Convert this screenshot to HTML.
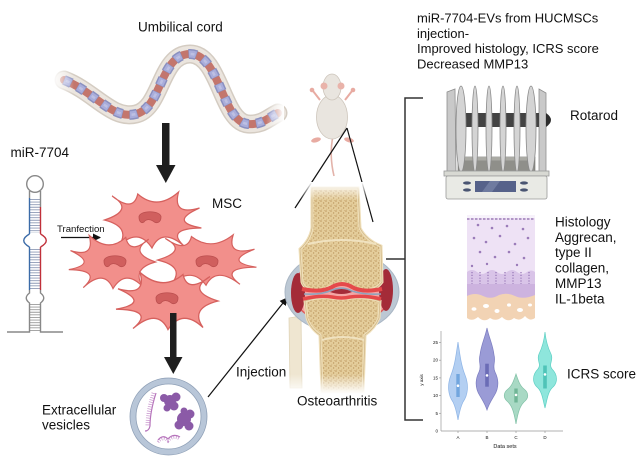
<!DOCTYPE html>
<html><head><meta charset="utf-8"><style>
html,body{margin:0;padding:0;background:#fff;}
svg{display:block;}
text{font-family:"Liberation Sans",Arial,sans-serif;fill:#111;}
</style></head><body>
<svg width="639" height="465" viewBox="0 0 639 465" xmlns="http://www.w3.org/2000/svg">
<defs>
  <pattern id="sp" width="5" height="5" patternUnits="userSpaceOnUse">
    <rect width="5" height="5" fill="#e4cd9b"/>
    <circle cx="1" cy="1" r="0.8" fill="#bf9a62"/>
    <circle cx="3.6" cy="3" r="0.7" fill="#bf9a62"/>
    <circle cx="1.8" cy="4.3" r="0.5" fill="#cdab76"/>
    <circle cx="4.4" cy="0.6" r="0.5" fill="#cdab76"/>
  </pattern>
  <linearGradient id="fadeL" x1="0" x2="1"><stop offset="0" stop-color="#fff" stop-opacity="1"/><stop offset="1" stop-color="#fff" stop-opacity="0"/></linearGradient>
  <linearGradient id="fadeR" x1="1" x2="0"><stop offset="0" stop-color="#fff" stop-opacity="1"/><stop offset="1" stop-color="#fff" stop-opacity="0"/></linearGradient>
  <linearGradient id="fadeT" x1="0" y1="0" x2="0" y2="1"><stop offset="0" stop-color="#fff" stop-opacity="1"/><stop offset="1" stop-color="#fff" stop-opacity="0"/></linearGradient>
  <linearGradient id="fadeB" x1="0" y1="1" x2="0" y2="0"><stop offset="0" stop-color="#fff" stop-opacity="1"/><stop offset="1" stop-color="#fff" stop-opacity="0"/></linearGradient>
  <path id="cellp" d="M -50 0 Q -18 -10 -42 -24 Q -19.5 -7 -15 -26 Q 5.5 -9 28 -28 Q 21 -4 50 -12 Q 17 2 52 8 Q 12.5 8.5 35 27 Q 10.5 6.5 0 28 Q -14.5 7 -35 26 Q -21.5 7 -50 0 Z"/>
  <path id="nuc" d="M -11 -1 C -11 -8 11 -8 11 -1 C 11 5 6 6 3 3 C 0 1 -4 1 -6 4 C -9 6 -11 3 -11 -1 Z"/>
  <path id="cord" d="M 64 80 C 95 92 112 120 136 114 C 162 108 160 54 190 54 C 220 54 222 122 248 124 C 262 125 268 118 278 113"/>
  <marker id="ah" markerWidth="8" markerHeight="8" refX="7" refY="4" orient="auto" markerUnits="userSpaceOnUse">
    <path d="M0 0 L8 4 L0 8 Z" fill="#111"/>
  </marker>
</defs>

<!-- ===== Umbilical cord ===== -->
<text x="138" y="31.5" font-size="13.5">Umbilical cord</text>
<g fill="none" stroke-linecap="round">
  <use href="#cord" stroke="#d4ccc2" stroke-width="19"/>
  <use href="#cord" stroke="#ebe5de" stroke-width="16"/>
  <use href="#cord" stroke="#c3766d" stroke-width="8"/>
  <use href="#cord" stroke="#8a90c0" stroke-width="10" stroke-dasharray="8 7" stroke-linecap="butt"/>
  <use href="#cord" stroke="#a9addb" stroke-width="7" stroke-dasharray="7 8" stroke-dashoffset="-0.5" stroke-linecap="butt"/>
  <use href="#cord" stroke="#bdc0e3" stroke-width="2.5" stroke-dasharray="4 11" stroke-dashoffset="-2" stroke-linecap="butt"/>
</g>
<rect x="52" y="60" width="22" height="40" fill="url(#fadeL)"/>
<rect x="266" y="100" width="18" height="40" fill="url(#fadeR)"/>

<!-- big arrow 1 -->
<rect x="162" y="123" width="7.5" height="43" fill="#1e1e1e"/>
<polygon points="156,165 175.5,165 165.8,183" fill="#1e1e1e"/>

<!-- ===== miR-7704 hairpin ===== -->
<text x="10.5" y="157" font-size="13.5">miR-7704</text>
<g fill="none" stroke-width="1.4">
  <line x1="35" y1="199" x2="35" y2="233" stroke="#8d9ab5" stroke-width="10" stroke-dasharray="0.9 1.7"/>
  <line x1="35" y1="249" x2="35" y2="289" stroke="#8d9ab5" stroke-width="10" stroke-dasharray="0.9 1.7"/>
  <line x1="35" y1="304" x2="35" y2="331" stroke="#9a9a9a" stroke-width="10" stroke-dasharray="0.9 1.7"/>
  <circle cx="35" cy="184" r="8.3" stroke="#888"/>
  <line x1="29.5" y1="191" x2="29.5" y2="198" stroke="#888"/>
  <line x1="40.5" y1="191" x2="40.5" y2="207" stroke="#888"/>
  <line x1="29.5" y1="198" x2="29.5" y2="234" stroke="#3b6ba8"/>
  <path d="M 29.5 234 Q 18 240.5 29.5 247" stroke="#3b6ba8"/>
  <line x1="29.5" y1="247" x2="29.5" y2="290" stroke="#3b6ba8"/>
  <line x1="40.5" y1="207" x2="40.5" y2="234" stroke="#c0303a"/>
  <path d="M 40.5 234 Q 52 240.5 40.5 247" stroke="#c0303a"/>
  <line x1="40.5" y1="247" x2="40.5" y2="290" stroke="#c0303a"/>
  <path d="M 29.5 290 L 29.5 293 Q 23 298 29.5 303 L 29.5 332 L 7 332" stroke="#888"/>
  <path d="M 40.5 290 L 40.5 293 Q 47 298 40.5 303 L 40.5 332 L 63 332" stroke="#888"/>
</g>
<text x="57" y="232" font-size="9.6">Tranfection</text>
<line x1="61" y1="237.5" x2="100" y2="237.5" stroke="#111" stroke-width="1.2" marker-end="url(#ah)"/>

<!-- ===== MSC cells ===== -->
<text x="212" y="208" font-size="13.5">MSC</text>
<g>
  <g transform="translate(152,220) scale(0.95,1)">
    <use href="#cellp" fill="#f28f8b" stroke="#d6615e" stroke-width="1.3"/>
  </g>
  <g transform="translate(206,260) scale(0.97,0.9)">
    <use href="#cellp" fill="#f28f8b" stroke="#d6615e" stroke-width="1.3"/>
  </g>
  <g transform="translate(113,262) scale(-0.85,0.95)">
    <use href="#cellp" fill="#f28f8b" stroke="#d6615e" stroke-width="1.3"/>
  </g>
  <g transform="translate(168,301) scale(-1,1.02)">
    <use href="#cellp" fill="#f28f8b" stroke="#d6615e" stroke-width="1.3"/>
  </g>
  <use href="#nuc" transform="translate(150,218)" fill="#d05f5e" stroke="#bb4f4f" stroke-width="0.8"/>
  <use href="#nuc" transform="translate(115,262)" fill="#d05f5e" stroke="#bb4f4f" stroke-width="0.8"/>
  <use href="#nuc" transform="translate(207,262)" fill="#d05f5e" stroke="#bb4f4f" stroke-width="0.8"/>
  <use href="#nuc" transform="translate(167,299)" fill="#d05f5e" stroke="#bb4f4f" stroke-width="0.8"/>
</g>

<!-- big arrow 2 -->
<rect x="170" y="313" width="6.5" height="45" fill="#1e1e1e"/>
<polygon points="164,357 182.5,357 173.3,374" fill="#1e1e1e"/>

<!-- ===== Vesicle ===== -->
<circle cx="168.5" cy="416.5" r="35.5" fill="#fff" stroke="#b8c6d8" stroke-width="6"/>
<circle cx="168.5" cy="416.5" r="38.5" fill="none" stroke="#8e9fb6" stroke-width="0.8"/>
<circle cx="168.5" cy="416.5" r="32.5" fill="none" stroke="#8e9fb6" stroke-width="0.8"/>
<g fill="none">
  <path d="M 156 393 Q 150 412 150 426 Q 149 431 145 431" stroke="#b674bb" stroke-width="1.2"/>
  <path d="M 153.5 393 Q 147.5 412 147.5 426" stroke="#c48dc9" stroke-width="4" stroke-dasharray="0.7 1.6"/>
  <path d="M 158 440 Q 163 434 168 439 Q 173 433 180 437" stroke="#b674bb" stroke-width="1.2"/>
  <path d="M 158 442 Q 163 436 168 441 Q 173 435 180 439" stroke="#c48dc9" stroke-width="3" stroke-dasharray="0.7 1.6"/>
</g>
<g fill="#8b5aa7">
  <circle cx="170" cy="401" r="6"/><circle cx="176" cy="397" r="4.5"/><circle cx="164" cy="398" r="4"/>
  <circle cx="174" cy="406" r="4.5"/><circle cx="167" cy="408" r="3.5"/>
  <circle cx="184" cy="419" r="7"/><circle cx="190" cy="414" r="4.5"/><circle cx="179" cy="425" r="4.5"/>
  <circle cx="189" cy="426" r="4.5"/><circle cx="184" cy="411" r="3.5"/>
</g>
<text x="42" y="414.5" font-size="13.5">Extracellular</text>
<text x="42" y="429.5" font-size="13.5">vesicles</text>

<!-- Injection -->
<line x1="208" y1="397" x2="287" y2="298" stroke="#111" stroke-width="1.2" marker-end="url(#ah)"/>
<text x="236" y="376.5" font-size="13.5">Injection</text>

<!-- ===== Mouse ===== -->
<path d="M 333 136 Q 329 155 334 176" fill="none" stroke="#e3b3aa" stroke-width="1.6"/>
<ellipse cx="316" cy="140" rx="5" ry="2.3" fill="#e8aba2" transform="rotate(-15 316 140)"/>
<ellipse cx="349" cy="140" rx="5" ry="2.3" fill="#e8aba2" transform="rotate(15 349 140)"/>
<path d="M 320 100 L 313 91" stroke="#e8aba2" stroke-width="2"/>
<path d="M 345 100 L 352 91" stroke="#e8aba2" stroke-width="2"/>
<circle cx="312" cy="90" r="2.3" fill="#e8aba2"/>
<circle cx="353" cy="90" r="2.3" fill="#e8aba2"/>
<ellipse cx="332" cy="117" rx="15.5" ry="22" fill="#e9e5df" stroke="#cdc5bb" stroke-width="0.8"/>
<ellipse cx="332" cy="87" rx="9" ry="13" fill="#e9e5df" stroke="#cdc5bb" stroke-width="0.8"/>
<circle cx="324" cy="86" r="3.5" fill="#e9b3aa"/>
<circle cx="341" cy="86" r="3.5" fill="#e9b3aa"/>

<!-- mouse-to-knee lines -->
<line x1="347" y1="128" x2="295" y2="208" stroke="#111" stroke-width="1.2"/>
<line x1="347" y1="128" x2="373" y2="222" stroke="#111" stroke-width="1.2"/>

<!-- ===== Knee ===== -->
<g>
  <path d="M 289 318 L 301 316 L 302 388 L 290 388 Z" fill="#efe6d1" stroke="#e0d4b8" stroke-width="0.8"/>
  <ellipse cx="342" cy="292" rx="57" ry="41" fill="#bcc8d4" stroke="#a9b6c4" stroke-width="1"/>
  <ellipse cx="342" cy="291" rx="50" ry="33" fill="#f4a5a4" stroke="#e05c5a" stroke-width="1.5"/>
  <ellipse cx="298" cy="293" rx="7" ry="20" fill="#a42b38"/>
  <ellipse cx="386" cy="290" rx="7" ry="21" fill="#a42b38"/>
  <!-- femur -->
  <path d="M 312 188 L 358 188 L 360 228 Q 366 240 381 246 L 382 282 Q 375 292 360 290 Q 350 285 342 283 Q 333 285 322 290 Q 305 292 302 282 L 300 249 Q 310 240 312 228 Z" fill="url(#sp)" stroke="#efdfba" stroke-width="3"/>
  <path d="M 312 188 L 358 188 L 360 228 Q 366 240 381 246 L 382 282 Q 375 292 360 290 Q 350 285 342 283 Q 333 285 322 290 Q 305 292 302 282 L 300 249 Q 310 240 312 228 Z" fill="none" stroke="#cfb584" stroke-width="0.7"/>
  <path d="M 308 244 Q 342 236 376 244" fill="none" stroke="#f0e2c0" stroke-width="2"/>
  <!-- tibia -->
  <path d="M 305 301 Q 320 296 332 298 Q 342 300 350 298 Q 365 296 380 301 L 379 318 Q 375 328 365 335 L 363 392 L 322 392 L 320 335 Q 310 328 307 318 Z" fill="url(#sp)" stroke="#efdfba" stroke-width="3"/>
  <path d="M 305 301 Q 320 296 332 298 Q 342 300 350 298 Q 365 296 380 301 L 379 318 Q 375 328 365 335 L 363 392 L 322 392 L 320 335 Q 310 328 307 318 Z" fill="none" stroke="#cfb584" stroke-width="0.7"/>
  <path d="M 322 340 Q 342 334 364 340" fill="none" stroke="#f0e2c0" stroke-width="2"/>
  <!-- joint -->
  <path d="M 302 289 Q 322 293 332 287 Q 342 281 352 287 Q 362 293 382 289" fill="none" stroke="#e5494a" stroke-width="4"/>
  <path d="M 303 299 Q 320 295 332 297 Q 342 299 350 297 Q 365 295 381 299" fill="none" stroke="#e5494a" stroke-width="3.5"/>
  <path d="M 304 294 Q 322 295 332 290 Q 342 286 352 291 Q 364 295 381 294" fill="none" stroke="#8ea3bc" stroke-width="1.6"/>
  <path d="M 330 292 Q 342 286 352 292 Q 342 296 330 292 Z" fill="#a42b38"/>
  <rect x="280" y="182" width="110" height="18" fill="url(#fadeT)"/>
  <rect x="280" y="374" width="110" height="20" fill="url(#fadeB)"/>
</g>
<text x="297" y="405.5" font-size="13.5">Osteoarthritis</text>

<!-- bracket -->
<g stroke="#333" stroke-width="1.5" fill="none">
  <path d="M 423 98 L 405 98 L 405 420 L 423 420"/>
  <line x1="386" y1="259" x2="405" y2="259"/>
</g>

<!-- ===== Top right text ===== -->
<g font-size="13">
  <text x="417" y="22.7">miR-7704-EVs from HUCMSCs</text>
  <text x="417" y="37.9">injection-</text>
  <text x="417" y="53.1">Improved histology, ICRS score</text>
  <text x="417" y="68.3">Decreased MMP13</text>
</g>

<!-- ===== Rotarod ===== -->
<g>
  <polygon points="447,92 455,89 456,173 447,175" fill="#c9c9c9" stroke="#8e8e8e" stroke-width="0.8"/>
  <polygon points="539,89 546,93 546,175 539,173" fill="#c9c9c9" stroke="#8e8e8e" stroke-width="0.8"/>
  <rect x="458" y="157" width="77" height="16" fill="#8f8f8a" stroke="#6e6e6a" stroke-width="0.6"/>
  <rect x="458" y="157" width="77" height="3.5" fill="#aaaaa4"/>
  <rect x="457" y="113" width="82" height="14" fill="#434343"/>
  <path d="M 546 113 Q 556 120 546 127 Z" fill="#2e2e2e"/>
  <g fill="#d4d4d4" stroke="#8a8a8a" stroke-width="0.8">
    <ellipse cx="461" cy="129" rx="5" ry="43"/>
    <ellipse cx="475" cy="129" rx="3" ry="43"/>
    <ellipse cx="489" cy="129" rx="3" ry="43"/>
    <ellipse cx="503" cy="129" rx="3" ry="43"/>
    <ellipse cx="517" cy="129" rx="3" ry="43"/>
    <ellipse cx="531" cy="129" rx="5" ry="43"/>
  </g>
  <rect x="444" y="171" width="105" height="5" fill="#d8d9d3" stroke="#999" stroke-width="0.8"/>
  <rect x="446" y="176" width="101" height="23" rx="2" fill="#e9eae5" stroke="#999" stroke-width="0.8"/>
  <rect x="475" y="181" width="41" height="11" fill="#56628a"/>
  <polygon points="490,181 500,181 492,192 482,192" fill="#6f7ba0"/>
  <g fill="#4a5572">
    <ellipse cx="467" cy="183" rx="4" ry="1.6"/><ellipse cx="467" cy="190" rx="4" ry="1.6"/>
    <ellipse cx="524" cy="183" rx="4" ry="1.6"/><ellipse cx="524" cy="190" rx="4" ry="1.6"/>
  </g>
</g>
<text x="570" y="120" font-size="13.5">Rotarod</text>

<!-- ===== Histology ===== -->
<g>
  <rect x="467" y="215" width="68" height="60" fill="#eee2f5"/>
  <rect x="467" y="215" width="68" height="3" fill="#f7f2fb"/>
  <line x1="467" y1="219" x2="535" y2="219" stroke="#8d6aaa" stroke-width="1.2" stroke-dasharray="2.5 1.5"/>
  <path d="M 467 272 Q 472 268 477 272 Q 482 276 487 272 Q 492 268 497 272 Q 502 276 507 272 Q 512 268 517 272 Q 522 276 527 272 Q 531 269 535 272 L 535 298 L 467 298 Z" fill="#d9c4e8"/>
  <rect x="467" y="284" width="68" height="14" fill="#cdb3df"/>
  <path d="M 467 296 Q 475 292 483 296 Q 491 300 499 295 Q 507 292 515 296 Q 523 300 535 295 L 535 318 Q 530 322 525 316 Q 520 322 514 318 Q 508 323 502 317 Q 496 322 490 318 Q 484 323 478 317 Q 472 322 467 318 Z" fill="#f2d3b4"/>
  <g fill="#fff">
    <ellipse cx="474" cy="309" rx="2.5" ry="1.8"/><ellipse cx="486" cy="306" rx="3" ry="2"/>
    <ellipse cx="497" cy="311" rx="2.5" ry="2"/><ellipse cx="509" cy="305" rx="2" ry="1.6"/>
    <ellipse cx="520" cy="310" rx="3" ry="2"/><ellipse cx="530" cy="305" rx="2" ry="1.5"/>
  </g>
  <g fill="#9b7bb9">
    <circle cx="478" cy="225" r="1.3"/><circle cx="492" cy="228" r="1.3"/><circle cx="507" cy="226" r="1.3"/><circle cx="523" cy="229" r="1.3"/>
    <circle cx="474" cy="238" r="1.3"/><circle cx="486" cy="242" r="1.3"/><circle cx="500" cy="236" r="1.3"/><circle cx="515" cy="244" r="1.3"/><circle cx="528" cy="238" r="1.3"/>
    <circle cx="480" cy="252" r="1.3"/><circle cx="495" cy="257" r="1.3"/><circle cx="509" cy="252" r="1.3"/><circle cx="524" cy="258" r="1.3"/>
    <circle cx="472" cy="266" r="1.2"/><circle cx="487" cy="264" r="1.2"/><circle cx="517" cy="265" r="1.2"/>
  </g>
  <g stroke="#9b7bb9" stroke-width="1.3" stroke-dasharray="1.2 1.6">
    <line x1="472" y1="272" x2="472" y2="284"/><line x1="480" y1="272" x2="480" y2="284"/>
    <line x1="488" y1="272" x2="488" y2="284"/><line x1="496" y1="272" x2="496" y2="284"/>
    <line x1="505" y1="272" x2="505" y2="284"/><line x1="513" y1="272" x2="513" y2="284"/>
    <line x1="521" y1="272" x2="521" y2="284"/><line x1="529" y1="272" x2="529" y2="284"/>
  </g>
</g>
<g font-size="13.5">
  <text x="555" y="226.5">Histology</text>
  <text x="555" y="241.9">Aggrecan,</text>
  <text x="555" y="257.2">type II</text>
  <text x="555" y="272.6">collagen,</text>
  <text x="555" y="288">MMP13</text>
  <text x="555" y="303.3">IL-1beta</text>
</g>

<!-- ===== Violin plot ===== -->
<g>
  <g stroke="#999" stroke-width="0.7">
    <line x1="441" y1="331" x2="441" y2="431"/>
    <line x1="441" y1="431" x2="563" y2="431"/>
    <line x1="439" y1="342.5" x2="441" y2="342.5"/><line x1="439" y1="360.2" x2="441" y2="360.2"/>
    <line x1="439" y1="377.9" x2="441" y2="377.9"/><line x1="439" y1="395.6" x2="441" y2="395.6"/>
    <line x1="439" y1="413.3" x2="441" y2="413.3"/>
    <line x1="458" y1="431" x2="458" y2="433"/><line x1="487" y1="431" x2="487" y2="433"/>
    <line x1="516" y1="431" x2="516" y2="433"/><line x1="545" y1="431" x2="545" y2="433"/>
  </g>
  <g font-size="4.5" fill="#666" text-anchor="end">
    <text x="438" y="344">25</text><text x="438" y="361.7">20</text><text x="438" y="379.4">15</text>
    <text x="438" y="397.1">10</text><text x="438" y="414.8">5</text><text x="438" y="432.5">0</text>
  </g>
  <g font-size="4.5" fill="#666" text-anchor="middle">
    <text x="458" y="439">A</text><text x="487" y="439">B</text><text x="516" y="439">C</text><text x="545" y="439">D</text>
    <text x="505" y="448" font-size="5.5">Data sets</text>
    <text x="0" y="0" transform="translate(423,380) rotate(-90)">y axis</text>
  </g>
  <!-- A -->
  <path d="M 458 342 C 460 355 461 365 465 375 C 469 385 468 395 463 402 C 460 408 459 414 458 420 C 457 414 456 408 453 402 C 448 395 447 385 451 375 C 455 365 456 355 458 342 Z" fill="#b3cff2" stroke="#8db4e6" stroke-width="0.7"/>
  <rect x="456.3" y="374" width="3.4" height="23" fill="#72a6de"/>
  <circle cx="458" cy="385.7" r="1.3" fill="#fff"/>
  <!-- B -->
  <path d="M 487 328 C 489 338 493 345 494 355 C 496 362 492 366 495 372 C 499 380 499 388 494 396 C 491 401 489 404 487 410 C 485 404 483 401 480 396 C 475 388 475 380 479 372 C 482 366 478 362 480 355 C 481 345 485 338 487 328 Z" fill="#9a9bd6" stroke="#7c7dc0" stroke-width="0.7"/>
  <rect x="485.2" y="363.7" width="3.6" height="23" fill="#6b6cb6"/>
  <circle cx="487" cy="375.4" r="1.3" fill="#fff"/>
  <!-- C -->
  <path d="M 516 374 C 518 380 520 386 524 389 C 529 393 529 398 524 402 C 520 406 518 412 516 424 C 514 412 512 406 508 402 C 503 398 503 393 508 389 C 512 386 514 380 516 374 Z" fill="#a8d9c4" stroke="#80c0a6" stroke-width="0.7"/>
  <rect x="514.3" y="388.5" width="3.4" height="14" fill="#70b596"/>
  <circle cx="516" cy="394.9" r="1.3" fill="#fff"/>
  <!-- D -->
  <path d="M 545 332 C 546 342 548 348 551 354 C 554 360 548 364 552 369 C 558 375 558 383 552 388 C 548 392 547 400 545 408 C 543 400 542 392 538 388 C 532 383 532 375 538 369 C 542 364 536 360 539 354 C 542 348 544 342 545 332 Z" fill="#8ee6dc" stroke="#5fd0c4" stroke-width="0.7"/>
  <rect x="543.2" y="365.5" width="3.6" height="23" fill="#4fc4b8"/>
  <circle cx="545" cy="374.4" r="1.3" fill="#fff"/>
</g>
<text x="567" y="378.3" font-size="13.5">ICRS score</text>
</svg>
</body></html>
